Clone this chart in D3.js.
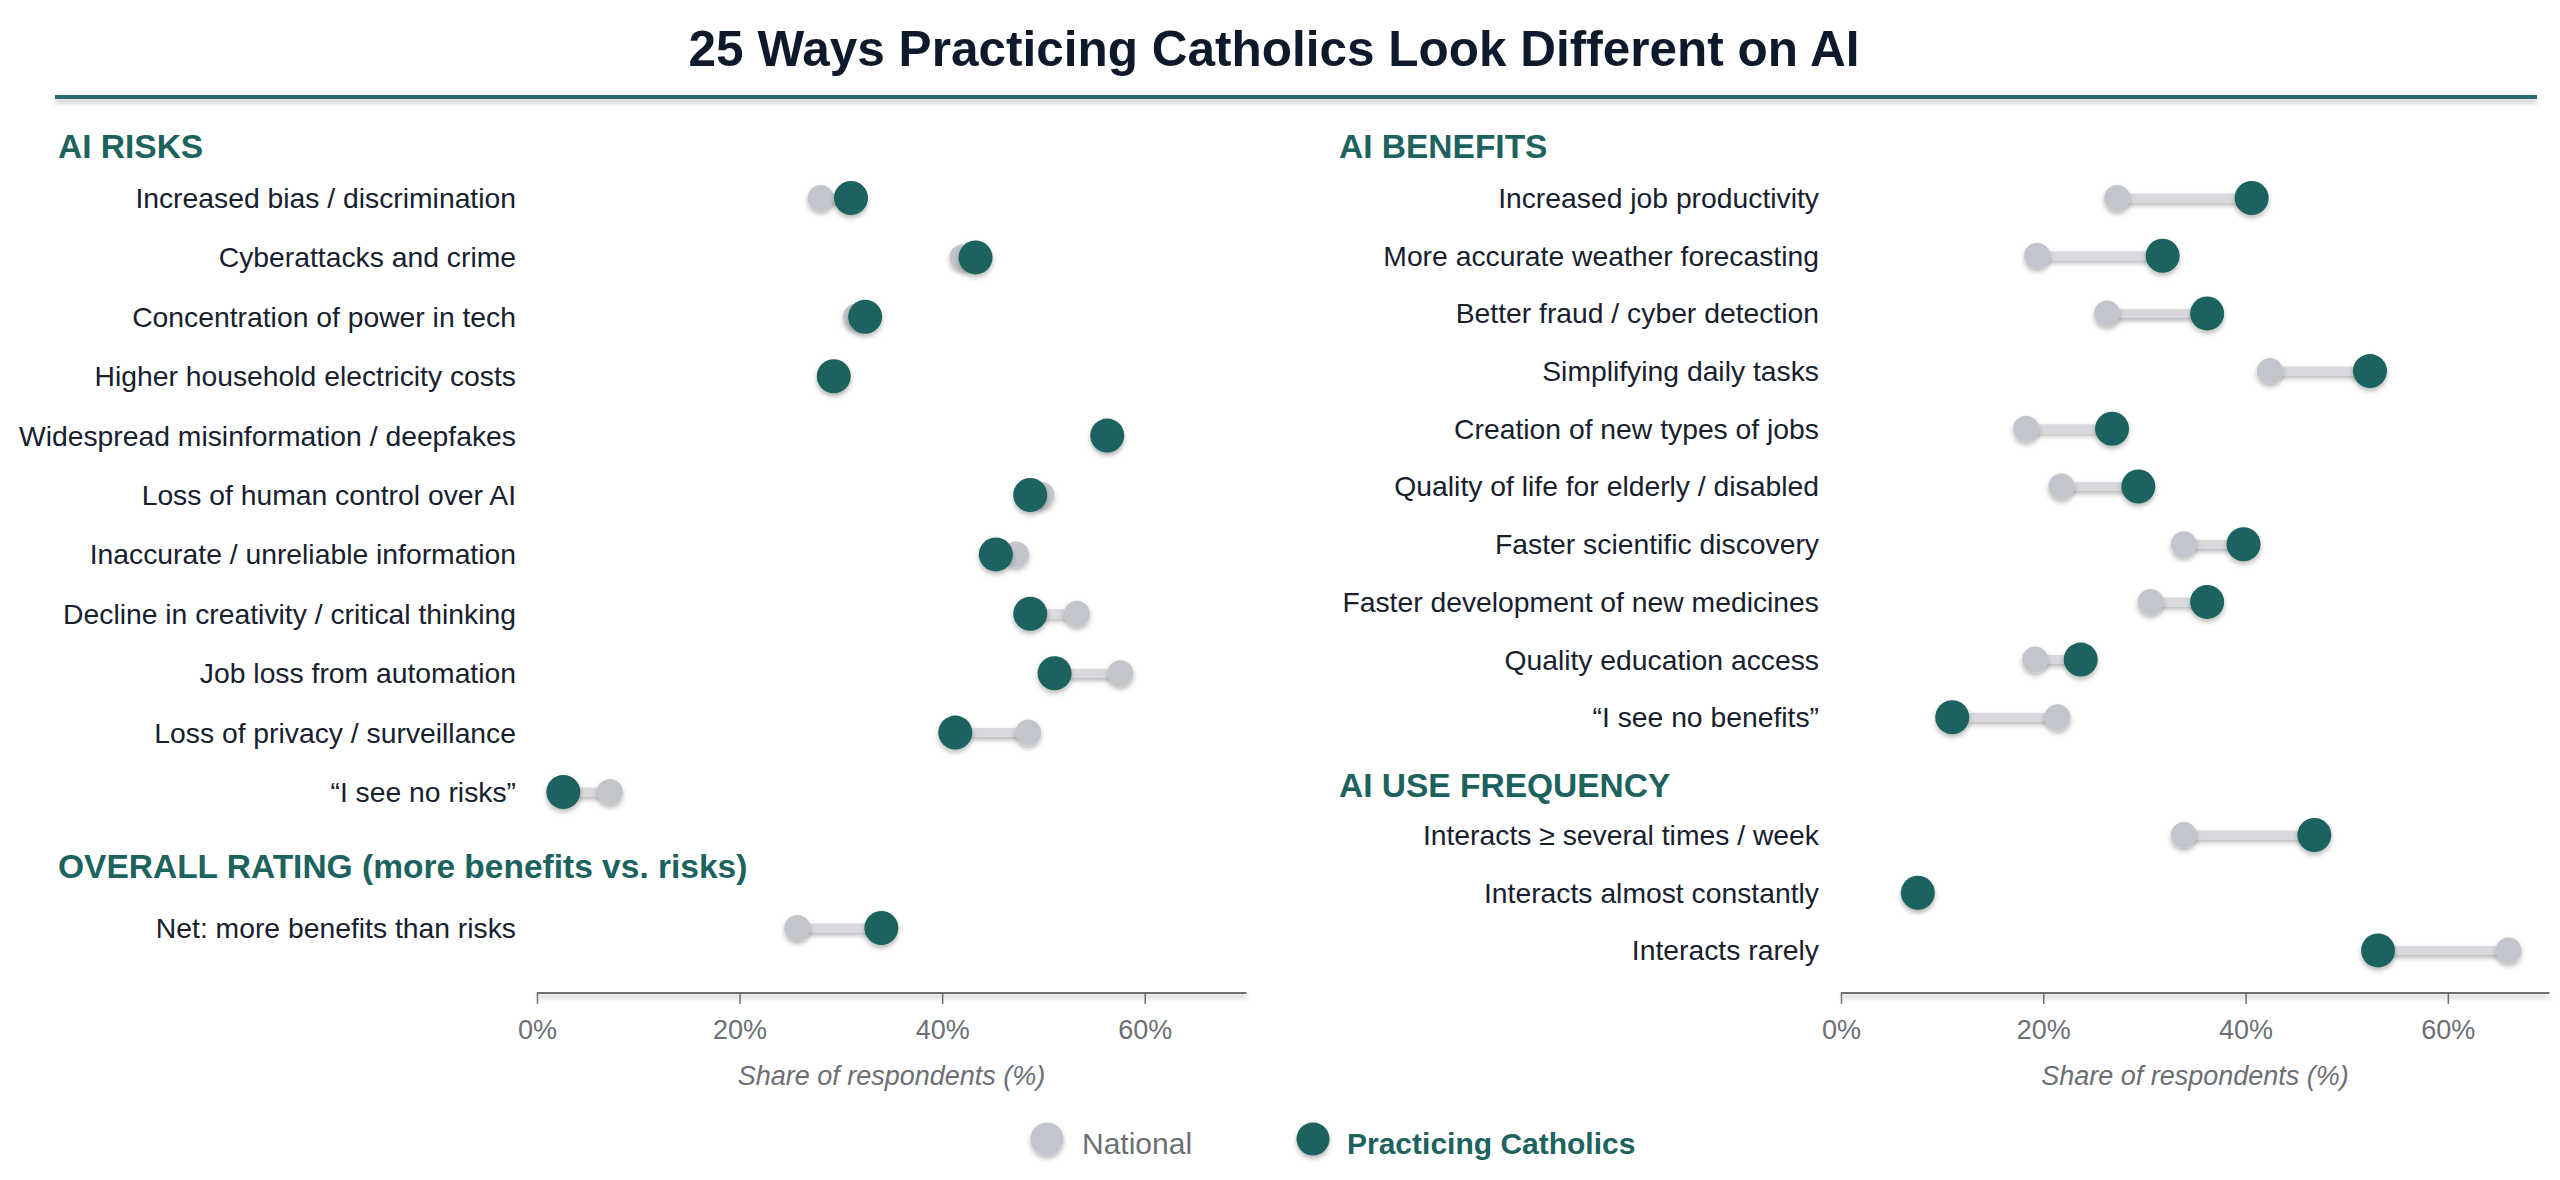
<!DOCTYPE html>
<html>
<head>
<meta charset="utf-8">
<script src="https://cdn.jsdelivr.net/npm/d3@7"></script>
<style>
  html, body { margin: 0; padding: 0; background: #ffffff; }
  svg { display: block; font-family: "Liberation Sans", Arial, Helvetica, sans-serif; }
</style>
</head>
<body>
<svg id="chart" width="2560" height="1180"></svg>
<script>
// ---------------- DATA ----------------
const chartTitle = "25 Ways Practicing Catholics Look Different on AI";

const riskHeader = "AI RISKS";
const riskLabels = [
  "Increased bias / discrimination",
  "Cyberattacks and crime",
  "Concentration of power in tech",
  "Higher household electricity costs",
  "Widespread misinformation / deepfakes",
  "Loss of human control over AI",
  "Inaccurate / unreliable information",
  "Decline in creativity / critical thinking",
  "Job loss from automation",
  "Loss of privacy / surveillance",
  "\u201CI see no risks\u201D"
];
const riskNational = [28, 42, 31.5, 29.3, 56.3, 49.8, 47.3, 53.3, 57.6, 48.5, 7.2];
const riskCatholic = [31, 43.3, 32.4, 29.3, 56.3, 48.7, 45.3, 48.7, 51.1, 41.3, 2.6];

const overallHeader = "OVERALL RATING (more benefits vs. risks)";
const overallLabels = ["Net: more benefits than risks"];
const overallNational = [25.7];
const overallCatholic = [34.0];

const benefitHeader = "AI BENEFITS";
const benefitLabels = [
  "Increased job productivity",
  "More accurate weather forecasting",
  "Better fraud / cyber detection",
  "Simplifying daily tasks",
  "Creation of new types of jobs",
  "Quality of life for elderly / disabled",
  "Faster scientific discovery",
  "Faster development of new medicines",
  "Quality education access",
  "\u201CI see no benefits\u201D"
];
const benefitNational = [27.3, 19.4, 26.3, 42.4, 18.3, 21.8, 33.9, 30.6, 19.2, 21.4];
const benefitCatholic = [40.6, 31.8, 36.2, 52.3, 26.8, 29.4, 39.8, 36.2, 23.7, 11.0];

const useHeader = "AI USE FREQUENCY";
const useLabels = [
  "Interacts \u2265 several times / week",
  "Interacts almost constantly",
  "Interacts rarely"
];
const useNational = [33.9, 7.6, 66.0];
const useCatholic = [46.8, 7.6, 53.1];

const xTicks = [0, 20, 40, 60];
const xDomain = [0, 70];
const axisTitle = "Share of respondents (%)";
const seriesNames = ["National", "Practicing Catholics"];

// ---------------- STYLE ----------------
const TEAL = "#1c625e";
const GRAY = "#c3c5cc";
const LINK = "#d7d9dd";
const LABEL = "#17202e";
const AXIS = "#6c6f75";

const svg = d3.select("#chart");
const defs = svg.append("defs");
function makeShadow(id, dy, sd, op) {
  const f = defs.append("filter").attr("id", id)
    .attr("filterUnits", "userSpaceOnUse")
    .attr("x", 0).attr("y", 0).attr("width", 2560).attr("height", 1180);
  f.append("feDropShadow").attr("dx", 0).attr("dy", dy).attr("stdDeviation", sd)
    .attr("flood-color", "#000").attr("flood-opacity", op);
}
makeShadow("shadow", 3, 2.6, 0.28);
makeShadow("lineshadow", 4, 2.5, 0.22);

// Title
svg.append("text")
  .attr("x", 1274).attr("y", 66)
  .attr("text-anchor", "middle")
  .attr("font-size", 49.5).attr("font-weight", "bold")
  .attr("fill", "#0e1a2b")
  .text(chartTitle);

svg.append("line")
  .attr("x1", 55).attr("x2", 2537).attr("y1", 97).attr("y2", 97)
  .attr("stroke", "#2b6b68").attr("stroke-width", 4)
  .attr("filter", "url(#lineshadow)");

// ---------------- PANELS ----------------
function drawPanel(cfg) {
  const g = svg.append("g");
  const x = d3.scaleLinear().domain(xDomain).range(cfg.xRange);

  cfg.sections.forEach(sec => {
    g.append("text")
      .attr("x", cfg.headerX).attr("y", sec.headerY)
      .attr("font-size", 33.5).attr("font-weight", "bold")
      .attr("fill", TEAL)
      .text(sec.header);

    const y = d3.scalePoint()
      .domain(sec.labels)
      .range([sec.y0, sec.y0 + cfg.step * (sec.labels.length - 1)]);
    if (sec.labels.length === 1) y.range([sec.y0, sec.y0]);

    const rows = sec.labels.map((l, i) => ({ label: l, nat: sec.nat[i], cat: sec.cat[i] }));

    const rg = g.selectAll(null).data(rows).enter().append("g");

    rg.append("text")
      .attr("x", cfg.labelX).attr("y", d => y(d.label))
      .attr("dy", "0.35em")
      .attr("text-anchor", "end")
      .attr("font-size", 28.3).attr("fill", LABEL)
      .text(d => d.label);

    rg.append("line")
      .attr("x1", d => x(d.nat)).attr("x2", d => x(d.cat))
      .attr("y1", d => y(d.label)).attr("y2", d => y(d.label))
      .attr("stroke", LINK).attr("stroke-width", 9)
      .attr("filter", "url(#shadow)");

    rg.append("circle")
      .attr("cx", d => x(d.nat)).attr("cy", d => y(d.label))
      .attr("r", 13).attr("fill", GRAY)
      .attr("filter", "url(#shadow)");

    rg.append("circle")
      .attr("cx", d => x(d.cat)).attr("cy", d => y(d.label))
      .attr("r", 17).attr("fill", TEAL)
      .attr("filter", "url(#shadow)");
  });

  const axis = d3.axisBottom(x)
    .tickValues(xTicks)
    .tickFormat(d => d + "%")
    .tickSize(12)
    .tickSizeOuter(0)
    .tickPadding(16);
  const ag = g.append("g").attr("transform", `translate(0,${cfg.axisY})`).call(axis);
  ag.select(".domain").attr("stroke", AXIS).attr("stroke-width", 3)
    .attr("filter", "url(#lineshadow)");
  ag.selectAll(".tick line").attr("stroke", AXIS).attr("stroke-width", 1.5);
  ag.selectAll(".tick text")
    .attr("font-size", 27).attr("fill", AXIS)
    .attr("font-family", "\"Liberation Sans\", Arial, sans-serif");

  g.append("text")
    .attr("x", (cfg.xRange[0] + cfg.xRange[1]) / 2)
    .attr("y", cfg.axisY + 93)
    .attr("text-anchor", "middle")
    .attr("font-size", 27).attr("font-style", "italic")
    .attr("fill", AXIS)
    .text(axisTitle);
}

drawPanel({
  xRange: [537, 1246],
  labelX: 516,
  headerX: 58,
  step: 59.4,
  axisY: 992,
  sections: [
    { header: riskHeader, headerY: 158, y0: 198, labels: riskLabels, nat: riskNational, cat: riskCatholic },
    { header: overallHeader, headerY: 878, y0: 928, labels: overallLabels, nat: overallNational, cat: overallCatholic }
  ]
});

drawPanel({
  xRange: [1841, 2549],
  labelX: 1819,
  headerX: 1339,
  step: 57.7,
  axisY: 992,
  sections: [
    { header: benefitHeader, headerY: 158, y0: 198, labels: benefitLabels, nat: benefitNational, cat: benefitCatholic },
    { header: useHeader, headerY: 797, y0: 835, labels: useLabels, nat: useNational, cat: useCatholic }
  ]
});

// ---------------- LEGEND ----------------
const legend = svg.append("g");
const legendItems = [
  { name: seriesNames[0], color: GRAY, cx: 1047, tx: 1082, weight: "normal", tcolor: "#6d6f76" },
  { name: seriesNames[1], color: TEAL, cx: 1313, tx: 1347, weight: "bold", tcolor: TEAL }
];
const li = legend.selectAll(null).data(legendItems).enter().append("g");
li.append("circle")
  .attr("cx", d => d.cx).attr("cy", 1139).attr("r", 16.5)
  .attr("fill", d => d.color).attr("filter", "url(#shadow)");
li.append("text")
  .attr("x", d => d.tx).attr("y", 1154)
  .attr("font-size", 30).attr("font-weight", d => d.weight)
  .attr("fill", d => d.tcolor)
  .text(d => d.name);
</script>
</body>
</html>
